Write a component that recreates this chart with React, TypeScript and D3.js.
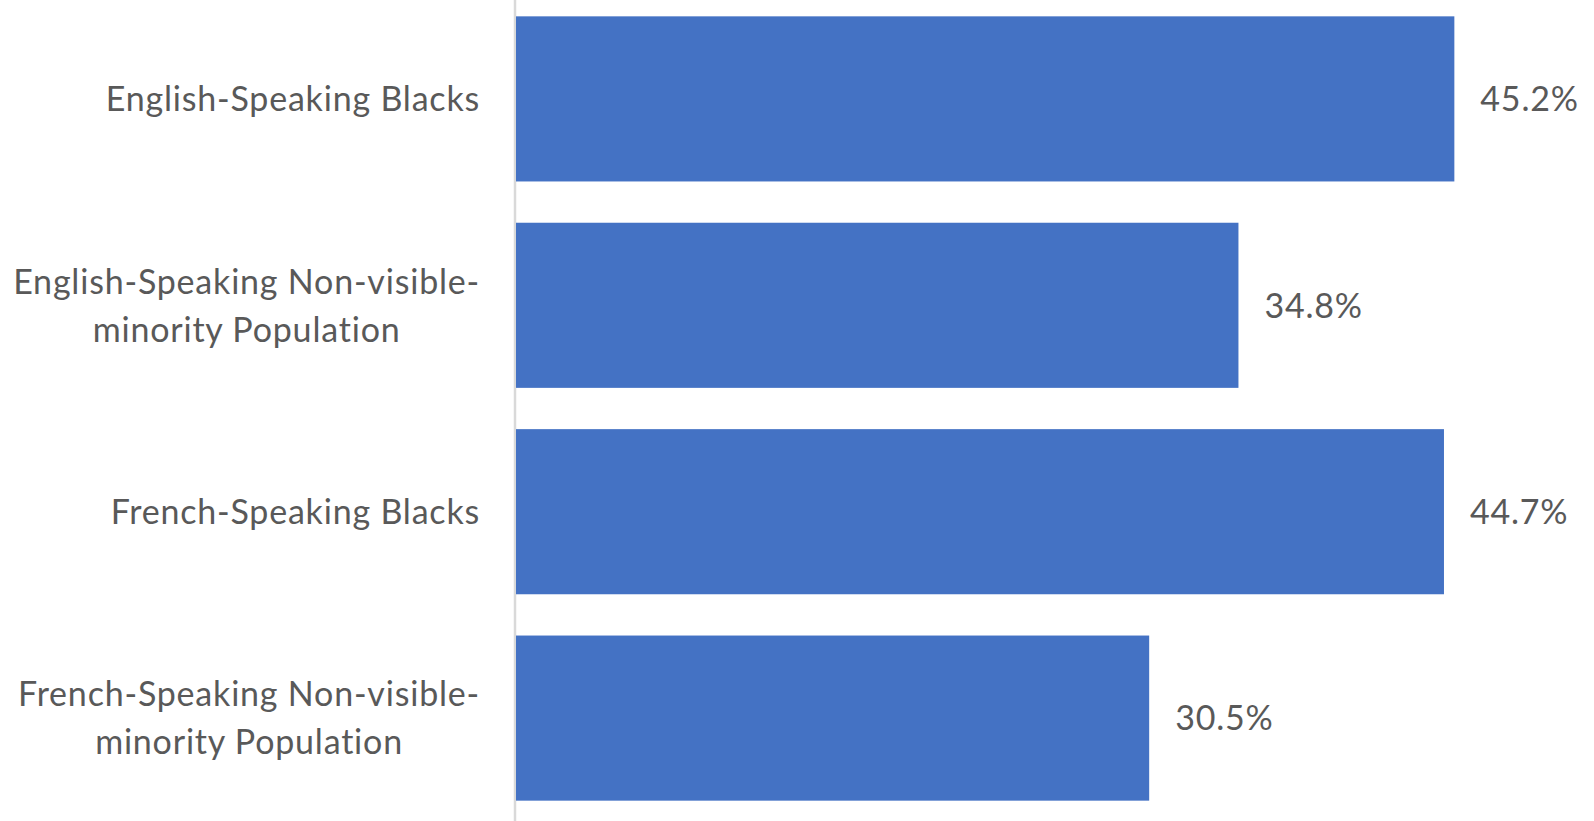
import React, { useEffect, useRef } from "react";
import * as d3 from "d3";

const categories = [
  "English-Speaking Blacks",
  "English-Speaking Non-visible-minority Population",
  "French-Speaking Blacks",
  "French-Speaking Non-visible-minority Population",
];
const values = [45.2, 34.8, 44.7, 30.5];
const xDomain = [0, 50];

const W = 1594;
const H = 821;
const FONT = "Lato, 'Open Sans', sans-serif";
const FS = 34;
const LS = 0.8;
const TEXT_COLOR = "#595959";
const BAR_COLOR = "#4472C4";

export default function App() {
  const ref = useRef<SVGSVGElement | null>(null);

  useEffect(() => {
    const svg = d3.select(ref.current);
    svg.selectAll("*").remove();

    const x = d3.scaleLinear().domain(xDomain).range([516, 1554]);
    const y = d3
      .scaleBand<string>()
      .domain(categories)
      .range([-4.3, 821.3])
      .paddingInner(0.2)
      .paddingOuter(0.1);

    // axis line
    svg
      .append("line")
      .attr("x1", x(0) - 1)
      .attr("x2", x(0) - 1)
      .attr("y1", 0)
      .attr("y2", H)
      .attr("stroke", "#d9d9d9")
      .attr("stroke-width", 2.5);

    // bars
    svg
      .selectAll("rect.bar")
      .data(categories)
      .enter()
      .append("rect")
      .attr("class", "bar")
      .attr("x", x(0))
      .attr("y", (d) => y(d)!)
      .attr("width", (d, i) => x(values[i]) - x(0))
      .attr("height", y.bandwidth())
      .attr("fill", BAR_COLOR);

    // value labels
    svg
      .selectAll("text.val")
      .data(categories)
      .enter()
      .append("text")
      .attr("class", "val")
      .attr("x", (d, i) => x(values[i]) + 26)
      .attr("y", (d) => y(d)! + y.bandwidth() / 2 + 12.2)
      .attr("font-family", FONT)
      .attr("font-size", FS)
      .attr("letter-spacing", LS)
      .attr("fill", TEXT_COLOR)
      .text((d, i) => `${values[i].toFixed(1)}%`);

    // category labels with wrapping
    const maxW = 475;
    const rightEdge = 480;
    const measure = svg
      .append("text")
      .attr("font-family", FONT)
      .attr("font-size", FS)
      .attr("letter-spacing", LS)
      .attr("visibility", "hidden");
    const widthOf = (s: string) => {
      measure.text(s);
      return (measure.node() as SVGTextElement).getComputedTextLength();
    };

    categories.forEach((cat) => {
      const tokens = cat.match(/[^\s-]+[-]?\s?/g) || [cat];
      const lines: string[] = [];
      let cur = "";
      tokens.forEach((t) => {
        const trial = cur + t;
        if (cur && widthOf(trial.trimEnd()) > maxW) {
          lines.push(cur.trimEnd());
          cur = t;
        } else {
          cur = trial;
        }
      });
      if (cur) lines.push(cur.trimEnd());
      const widths = lines.map(widthOf);
      const mw = Math.max(...widths);
      const cx = rightEdge - mw / 2;
      const lh = 48;
      const cy = y(cat)! + y.bandwidth() / 2;
      const t = svg
        .append("text")
        .attr("font-family", FONT)
        .attr("font-size", FS)
        .attr("letter-spacing", LS)
        .attr("fill", TEXT_COLOR)
        .attr("text-anchor", "middle");
      lines.forEach((ln, i) => {
        t.append("tspan")
          .attr("x", cx)
          .attr("y", cy + (i - (lines.length - 1) / 2) * lh + 12.2)
          .text(ln);
      });
    });
    measure.remove();
  }, []);

  return (
    <svg
      ref={ref}
      width={W}
      height={H}
      style={{ position: "absolute", left: 0, top: 0, background: "#fff" }}
    />
  );
}
